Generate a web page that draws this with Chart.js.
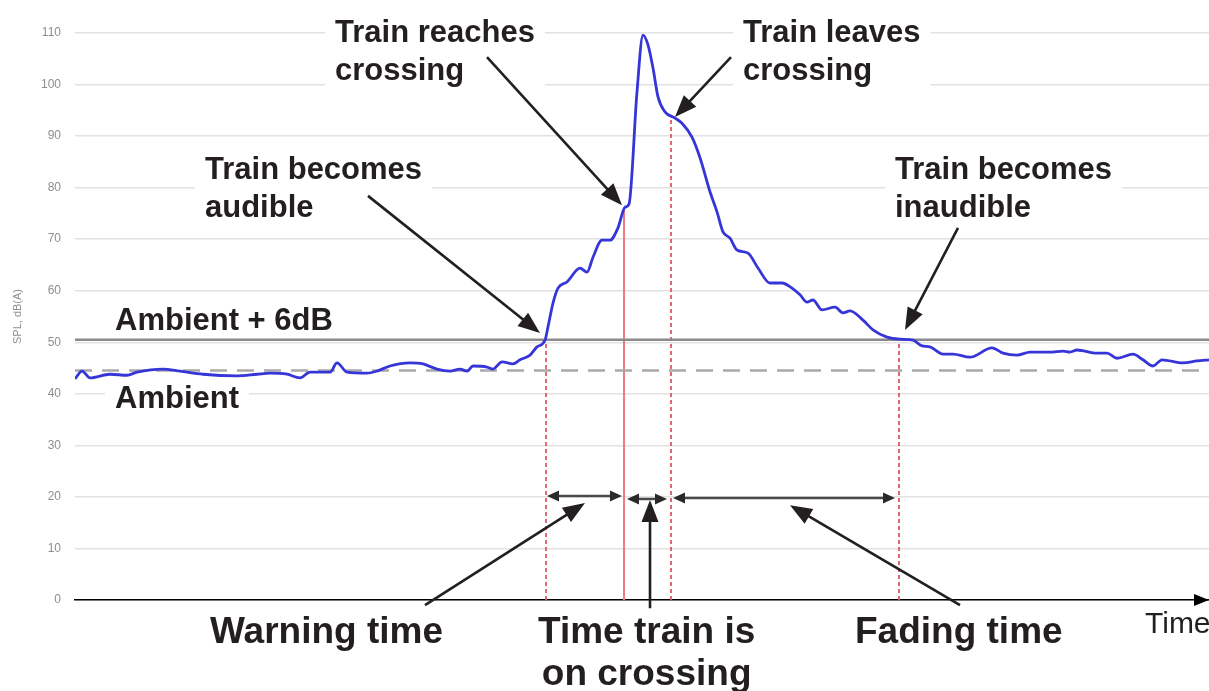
<!DOCTYPE html>
<html>
<head>
<meta charset="utf-8">
<script src="https://cdn.jsdelivr.net/npm/chart.js@4"></script>
<style>
  html, body { margin: 0; padding: 0; background: #fff; }
  #c { display: block; }
</style>
</head>
<body>
<canvas id="c" width="1209" height="691"></canvas>
<script>
// ---- data (time in arbitrary units, SPL in dB(A)) ----
const time = [0,7,15,35,52,62,88,105,128,162,182,195,212,225,235,255,262,272,292,302,315,335,348,362,375,385,392,398,412,418,427,438,445,455,462,470,473,478,483,492,505,512,518,527,535,543,550,554,562,568,573,578,583,590,600,607,617,625,635,642,648,655,662,673,683,695,707,717,725,732,738,747,760,768,775,788,798,812,825,838,847,855,868,878,895,917,928,942,955,975,988,995,1002,1022,1032,1042,1058,1068,1078,1087,1108,1122,1134];
const spl  = [42.9,44.4,43.1,43.8,43.6,44.2,44.8,44.4,43.8,43.5,43.8,44.0,43.8,43.1,44.2,44.2,46.0,44.2,44.0,44.4,45.4,46.0,45.8,44.8,44.4,44.8,44.4,45.4,45.2,44.8,46.2,45.8,46.6,47.5,49.1,50.4,53.0,57.6,60.5,61.7,64.4,63.6,66.5,69.8,69.8,72.2,76.2,76.8,98.6,109.6,107.7,103.2,97.6,94.7,93.5,92.5,89.8,85.8,79.2,75.3,71.4,70.2,67.9,67.3,64.4,61.5,61.5,60.5,59.2,57.8,58.2,56.3,56.8,55.7,56.1,54.3,52.4,51.0,50.6,50.4,49.3,49.1,47.7,47.7,47.1,48.9,47.9,47.5,48.1,48.1,48.3,48.1,48.5,47.9,47.9,46.9,47.7,46.6,45.4,46.6,46.0,46.4,46.6];
const yTicks = [0,10,20,30,40,50,60,70,80,90,100,110];
const ambient = 44.5;
const ambientPlus6 = 50.5;
const timeRange = [0, 1134];
// events: time and SPL at which each marker line stops
const eventNames = ['audible','reaches','leaves','inaudible'];
const eventTime  = [471, 549, 596, 824];
const eventLevel = [50.5, 76.2, 93.6, 50.6];
// interval arrows (from, to, level)
const intervalFrom  = [472, 552, 598];
const intervalTo    = [547, 592, 820];
const intervalLevel = [20.2, 19.6, 19.8];

// ---- annotations (data coordinates) ----
const labels = [
  {lines:['Train reaches','crossing'], t:260, v:108.2, size:31, bold:true, box:true},
  {lines:['Train leaves','crossing'],  t:668, v:108.2, size:31, bold:true, box:true},
  {lines:['Train becomes','audible'],  t:130, v:81.6, size:31, bold:true, box:true},
  {lines:['Train becomes','inaudible'],t:820, v:81.6, size:31, bold:true, box:true},
  {lines:['Ambient + 6dB'], t:40, v:52.4, size:31, bold:true, box:true},
  {lines:['Ambient'],       t:40, v:37.3, size:31, bold:true, box:true},
  {lines:['Warning time'],  t:135, v:-8.4, size:37, bold:true, box:false},
  {lines:['Time train is','on crossing'], t:463, v:-8.4, size:37, bold:true, box:false, lh:42, center:true},
  {lines:['Fading time'],   t:780, v:-8.4, size:37, bold:true, box:false},
  {lines:['Time'],          t:1070, v:-6.4, size:30, bold:false, box:false}
];
const pointers = [
  {from:[293,78.4], to:[465,51.8]},
  {from:[412,105.3], to:[547,76.6]},
  {from:[656,105.3], to:[600,93.7]},
  {from:[883,72.2], to:[830,52.4]},
  {from:[350,-1.0], to:[510,18.8]},
  {from:[575,-1.6], to:[575,19.4]},
  {from:[885,-1.0], to:[715,18.4]}
];

const TEXT_COLOR = '#231f20';
function fontStr(l){ return (l.bold ? 'bold ' : '') + l.size + 'px "Liberation Sans", Arial, Helvetica, sans-serif'; }

function arrowHead(ctx, x1, y1, x2, y2, len, half, color){
  const a = Math.atan2(y2 - y1, x2 - x1);
  ctx.save();
  ctx.fillStyle = color;
  ctx.beginPath();
  ctx.moveTo(x2, y2);
  ctx.lineTo(x2 - len*Math.cos(a) + half*Math.sin(a), y2 - len*Math.sin(a) - half*Math.cos(a));
  ctx.lineTo(x2 - len*Math.cos(a) - half*Math.sin(a), y2 - len*Math.sin(a) + half*Math.cos(a));
  ctx.closePath();
  ctx.fill();
  ctx.restore();
}
function arrowLine(ctx, x1, y1, x2, y2, lw, len, half, color){
  const a = Math.atan2(y2 - y1, x2 - x1);
  ctx.save();
  ctx.strokeStyle = color; ctx.lineWidth = lw;
  ctx.beginPath();
  ctx.moveTo(x1, y1);
  ctx.lineTo(x2 - (len-2)*Math.cos(a), y2 - (len-2)*Math.sin(a));
  ctx.stroke();
  ctx.restore();
  arrowHead(ctx, x1, y1, x2, y2, len, half, color);
}

function labelGeom(ctx, chart, l){
  const xs = chart.scales.x, ys = chart.scales.y;
  ctx.font = fontStr(l);
  const lh = l.lh || Math.round(l.size * 1.22);
  const widths = l.lines.map(s => ctx.measureText(s).width);
  const maxW = Math.max(...widths);
  const left = xs.getPixelForValue(l.t);
  const base = ys.getPixelForValue(l.v);
  return {left, base, lh, widths, maxW};
}

const annotPlugin = {
  id: 'annot',
  beforeDatasetsDraw(chart){
    const ctx = chart.ctx;
    ctx.save();
    labels.forEach(l => {
      if (!l.box) return;
      const g = labelGeom(ctx, chart, l);
      const top = g.base - l.size*0.76 - 6;
      const bottom = g.base + (l.lines.length-1)*g.lh + l.size*0.22 + 2;
      ctx.fillStyle = '#ffffff';
      ctx.fillRect(g.left - 10, top, g.maxW + 20, bottom - top);
    });
    ctx.restore();
  },
  afterDatasetsDraw(chart){
    const ctx = chart.ctx;
    const xs = chart.scales.x, ys = chart.scales.y;
    const area = chart.chartArea;
    // time-axis arrowhead
    arrowHead(ctx, area.right - 20, area.bottom, area.right, area.bottom, 15, 6, '#000');
    // interval double arrows
    for (let i = 0; i < intervalFrom.length; i++){
      const x1 = xs.getPixelForValue(intervalFrom[i]);
      const x2 = xs.getPixelForValue(intervalTo[i]);
      const y = ys.getPixelForValue(intervalLevel[i]);
      ctx.save();
      ctx.strokeStyle = '#4a4a4a'; ctx.lineWidth = 2.5;
      ctx.beginPath(); ctx.moveTo(x1 + 8, y); ctx.lineTo(x2 - 8, y); ctx.stroke();
      ctx.restore();
      arrowHead(ctx, x2, y, x1, y, 12, 5.5, '#2a2a2a');
      arrowHead(ctx, x1, y, x2, y, 12, 5.5, '#2a2a2a');
    }
    // labels
    labels.forEach(l => {
      const g = labelGeom(ctx, chart, l);
      ctx.save();
      ctx.font = fontStr(l);
      ctx.fillStyle = TEXT_COLOR;
      ctx.textBaseline = 'alphabetic';
      ctx.textAlign = 'left';
      l.lines.forEach((s, k) => {
        let x = g.left;
        if (l.center) x = g.left + (g.maxW - g.widths[k]) / 2;
        ctx.fillText(s, x, g.base + k*g.lh);
      });
      ctx.restore();
    });
    // pointer arrows
    pointers.forEach(p => {
      arrowLine(ctx,
        xs.getPixelForValue(p.from[0]), ys.getPixelForValue(p.from[1]),
        xs.getPixelForValue(p.to[0]), ys.getPixelForValue(p.to[1]),
        2.6, 22, 8.5, TEXT_COLOR);
    });
  }
};

// ---- datasets ----
const curve = time.map((t, i) => ({x: t, y: spl[i]}));
const datasets = [
  {label:'SPL', data: curve, borderColor:'#3636d8', borderWidth:2.8, pointRadius:0, cubicInterpolationMode:'monotone', fill:false},
  {label:'Ambient + 6dB', data:[{x:timeRange[0], y:ambientPlus6},{x:timeRange[1], y:ambientPlus6}], borderColor:'#8a8a8a', borderWidth:2.5, pointRadius:0},
  {label:'Ambient', data:[{x:timeRange[0], y:ambient},{x:timeRange[1], y:ambient}], borderColor:'#a9a9a9', borderWidth:2.5, borderDash:[17,10], pointRadius:0}
];
eventNames.forEach((n, i) => {
  const solid = n === 'reaches';
  datasets.push({
    label: n,
    data: [{x:eventTime[i], y:0},{x:eventTime[i], y:eventLevel[i]}],
    borderColor: solid ? '#f07a80' : '#e2566a',
    borderWidth: solid ? 2 : 1.8,
    borderDash: solid ? [] : [4,3],
    pointRadius: 0
  });
});

new Chart(document.getElementById('c'), {
  type: 'line',
  data: { datasets },
  options: {
    responsive: false,
    devicePixelRatio: 1,
    animation: false,
    events: [],
    layout: { padding: { top: 33, right: 0, bottom: 91, left: 0 } },
    plugins: { legend: {display:false}, tooltip: {enabled:false} },
    scales: {
      x: {
        type: 'linear', min: timeRange[0], max: timeRange[1],
        ticks: { display: false },
        grid: { display: false, drawTicks: false },
        border: { display: true, color: '#000', width: 1.6 }
      },
      y: {
        min: 0, max: 110,
        afterBuildTicks(scale){ scale.ticks = yTicks.map(v => ({value: v})); },
        afterFit(scale){ scale.width = 75; },
        ticks: { color: '#8e8e8e', padding: 14, font: { family: '"Liberation Sans", Arial, sans-serif', size: 12 } },
        grid: { color: '#e2e2e2', lineWidth: 1.5, drawTicks: false },
        border: { display: false },
        title: { display: true, text: 'SPL, dB(A)', color: '#8e8e8e', padding: { top: 11, bottom: 0 }, font: { family: '"Liberation Sans", Arial, sans-serif', size: 11 } }
      }
    }
  },
  plugins: [annotPlugin]
});
</script>
</body>
</html>
